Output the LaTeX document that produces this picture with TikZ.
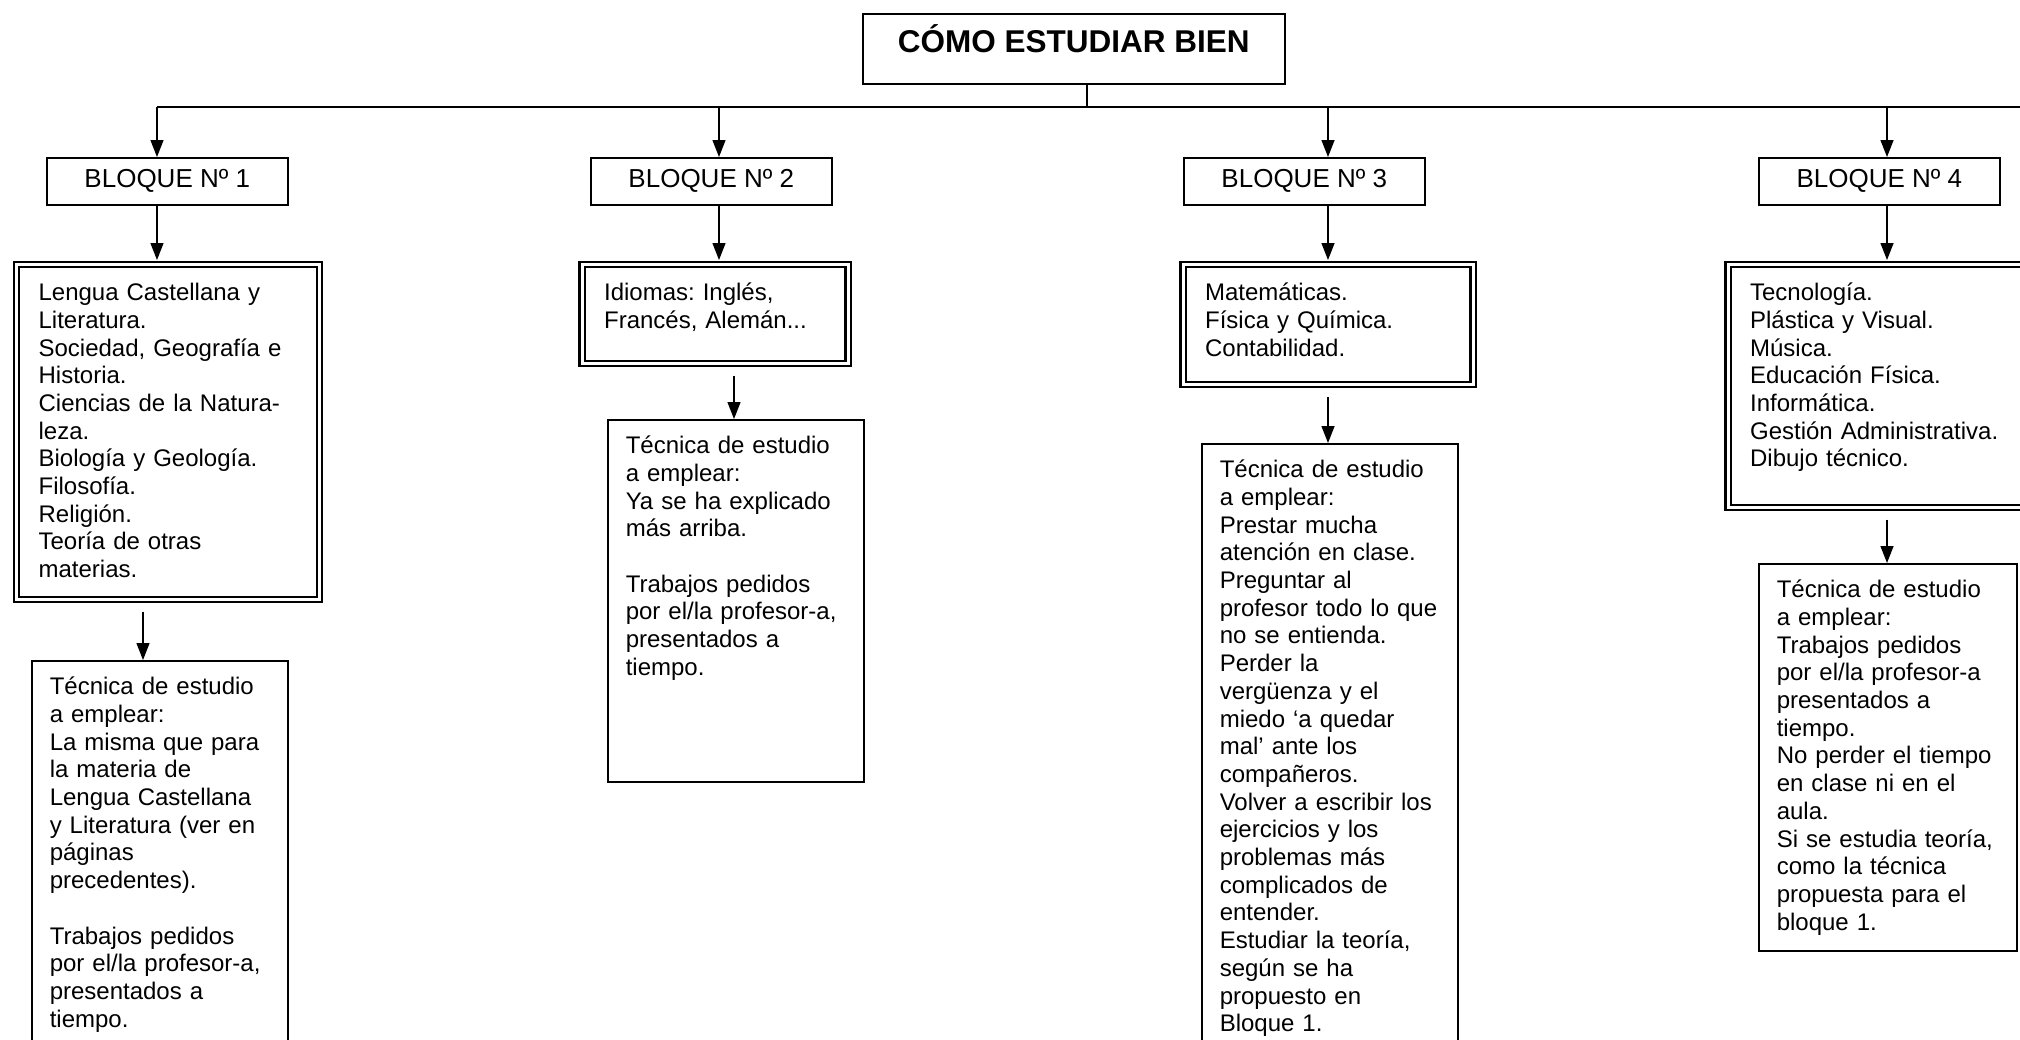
\documentclass[tikz,border=0pt]{standalone}
\usepackage{fontspec}
\setmainfont{Liberation Sans}
\usetikzlibrary{arrows.meta}
\frenchspacing

\def\textoCaja{\fontsize{24pt}{27.7pt}\selectfont}

\tikzset{
	flecha/.style={line width=1.3pt, -{Triangle[length=17pt,width=13pt]}},
	linea/.style={line width=1.5pt},
	titulo/.style={draw, line width=1.5pt, anchor=north west, inner sep=0pt, minimum width=422pt, text height=39pt, text depth=31pt, font=\fontsize{31.5pt}{36pt}\selectfont\bfseries},
	bloque/.style={draw, line width=1.5pt, anchor=north west, inner sep=0pt, minimum width=241pt, minimum height=47pt, font=\fontsize{26pt}{30pt}\selectfont},
	materias/.style={draw, double, double distance=3pt, line width=2.2pt, anchor=north west, align=left, inner xsep=22pt, inner ysep=14pt, text height=22pt, font=\textoCaja},
	tecnica/.style={draw, line width=1.5pt, anchor=north west, align=left, inner xsep=18pt, inner ysep=14pt, text height=20pt, font=\textoCaja},
}

\begin{document}
\begin{tikzpicture}[x=1pt, y=-1pt]
		\useasboundingbox (0,0) rectangle (2020,1039);
		\clip (0,0) rectangle (2020,1039);
		
		\node[titulo] (titulo) at (862,13) {CÓMO ESTUDIAR BIEN};
		
		\node[bloque] (b1) at (46,157) {BLOQUE Nº 1};
		\node[bloque] (b2) at (590,157) {BLOQUE Nº 2};
		\node[bloque] (b3) at (1183,157) {BLOQUE Nº 3};
		\node[bloque] (b4) at (1758,157) {BLOQUE Nº 4};
		
		% materias de cada bloque
		\node[materias, text width=259pt, text depth=285pt] (m1) at (15.5,263.5) {Lengua Castellana y\\Literatura.\\Sociedad, Geografía e\\Historia.\\Ciencias de la Natura-\\leza.\\Biología y Geología.\\Filosofía.\\Religión.\\Teoría de otras\\materias.};
		\node[materias, text width=222pt, text depth=49pt] (m2) at (581,263.5) {Idiomas: Inglés,\\Francés, Alemán...};
		\node[materias, text width=246pt, text depth=70pt] (m3) at (1182,263.5) {Matemáticas.\\Física y Química.\\Contabilidad.};
		\node[materias, text width=286pt, text depth=193pt] (m4) at (1727,263.5) {Tecnología.\\Plástica y Visual.\\Música.\\Educación Física.\\Informática.\\Gestión Administrativa.\\Dibujo técnico.};
		
		% tecnicas de estudio
		\node[tecnica, text width=220pt, text depth=372pt] (t1) at (31,660) {Técnica de estudio\\a emplear:\\La misma que para\\la materia de\\Lengua Castellana\\y Literatura (ver en\\páginas\\precedentes).\\[27.7pt]Trabajos pedidos\\por el/la profesor-a,\\presentados a\\tiempo.};
		\node[tecnica, text width=220pt, text depth=314pt] (t2) at (607,419) {Técnica de estudio\\a emplear:\\Ya se ha explicado\\más arriba.\\[27.7pt]Trabajos pedidos\\por el/la profesor-a,\\presentados a\\tiempo.};
		\node[tecnica, text width=220pt, text depth=572pt] (t3) at (1201,443) {Técnica de estudio\\a emplear:\\Prestar mucha\\atención en clase.\\Preguntar al\\profesor todo lo que\\no se entienda.\\Perder la\\vergüenza y el\\miedo ‘a quedar\\mal’ ante los\\compañeros.\\Volver a escribir los\\ejercicios y los\\problemas más\\complicados de\\entender.\\Estudiar la teoría,\\según se ha\\propuesto en\\Bloque 1.};
		\node[tecnica, text width=222pt, text depth=339pt] (t4) at (1758,563) {Técnica de estudio\\a emplear:\\Trabajos pedidos\\por el/la profesor-a\\presentados a\\tiempo.\\No perder el tiempo\\en clase ni en el\\aula.\\Si se estudia teoría,\\como la técnica\\propuesta para el\\bloque 1.};
		
		\coordinate (x1) at (157,107);
		\coordinate (x2) at (719,107);
		\coordinate (x3) at (1328,107);
		\coordinate (x4) at (1887,107);
		\coordinate (tallo) at (1087,107);
		\coordinate (finBus) at (2020,107);
		\coordinate (y1) at (143,0);
		\coordinate (y2) at (734,0);
		
		\draw[linea] (tallo |- titulo.south) -- (tallo);
		\draw[linea] (x1) -- (finBus);
		
		\draw[flecha] (x1) -- (x1 |- b1.north);
		\draw[flecha] (x2) -- (x2 |- b2.north);
		\draw[flecha] (x3) -- (x3 |- b3.north);
		\draw[flecha] (x4) -- (x4 |- b4.north);
		
		\draw[flecha, shorten >=3.5pt] (x1 |- b1.south) -- (x1 |- m1.north);
		\draw[flecha, shorten >=3.5pt] (x2 |- b2.south) -- (x2 |- m2.north);
		\draw[flecha, shorten >=3.5pt] (x3 |- b3.south) -- (x3 |- m3.north);
		\draw[flecha, shorten >=3.5pt] (x4 |- b4.south) -- (x4 |- m4.north);
		
		\draw[flecha, shorten <=11pt] (y1 |- m1.south) -- (y1 |- t1.north);
		\draw[flecha, shorten <=11pt] (y2 |- m2.south) -- (y2 |- t2.north);
		\draw[flecha, shorten <=11pt] (x3 |- m3.south) -- (x3 |- t3.north);
		\draw[flecha, shorten <=11pt] (x4 |- m4.south) -- (x4 |- t4.north);
\end{tikzpicture}
\end{document}
